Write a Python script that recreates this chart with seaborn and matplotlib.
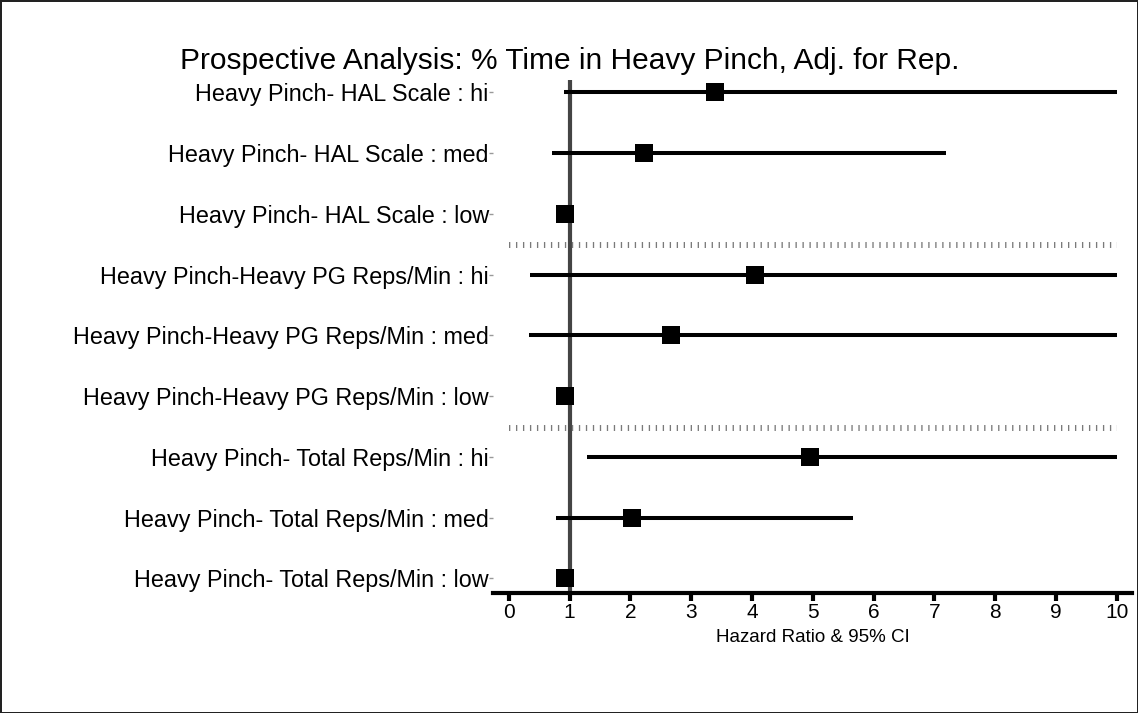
import numpy as np
import pandas as pd
import matplotlib
matplotlib.use("Agg")
import matplotlib.pyplot as plt
import seaborn as sns

labels = [
    "Heavy Pinch- HAL Scale : hi",
    "Heavy Pinch- HAL Scale : med",
    "Heavy Pinch- HAL Scale : low",
    "Heavy Pinch-Heavy PG Reps/Min : hi",
    "Heavy Pinch-Heavy PG Reps/Min : med",
    "Heavy Pinch-Heavy PG Reps/Min : low",
    "Heavy Pinch- Total Reps/Min : hi",
    "Heavy Pinch- Total Reps/Min : med",
    "Heavy Pinch- Total Reps/Min : low",
]
hazard_ratio = [3.39, 2.22, 0.92, 4.05, 2.67, 0.92, 4.95, 2.02, 0.92]
ci_low = [0.90, 0.71, 0.92, 0.35, 0.33, 0.92, 1.28, 0.77, 0.92]
ci_high = [10.0, 7.19, 0.92, 10.0, 10.0, 0.92, 10.0, 5.66, 0.92]
group_breaks = [2.52, 5.53]
x_ticks = list(range(0, 11))

df = pd.DataFrame({"label": labels, "hr": hazard_ratio,
                   "lo": ci_low, "hi": ci_high})

sns.set_theme(style="white")
plt.rcParams["font.family"] = ["Liberation Sans", "DejaVu Sans"]
plt.rcParams["text.color"] = "black"
plt.rcParams["axes.labelcolor"] = "black"
plt.rcParams["xtick.color"] = "black"
plt.rcParams["ytick.color"] = "black"

fig = plt.figure(figsize=(11.38, 7.13), dpi=100)
fig.patch.set_edgecolor("#222222")
fig.patch.set_linewidth(2)
ax = fig.add_axes([493 / 1138, 1 - 593 / 713, (1132 - 493) / 1138, (593 - 80) / 713])

pos = np.arange(len(labels))

# reference line at HR = 1
ax.axvline(1, color="#444444", lw=3.0, zorder=1)

# confidence intervals
ax.hlines(pos, df["lo"], df["hi"], color="black", lw=2.9, zorder=2)

# point estimates
sns.scatterplot(data=df, x="hr", y="label", marker="s", s=150,
                color="black", edgecolor="black", linewidth=0,
                ax=ax, zorder=3, legend=False)

# group separators
for yb in group_breaks:
    ax.hlines(yb, 0, 10, color="#7a7a7a", lw=4.3,
              linestyles=(0, (0.22, 0.95)), capstyle="butt", zorder=1)

ax.set_xlim(-0.26, 10.25)
ax.set_ylim(8.24, -0.2)
ax.set_xticks(x_ticks)
ax.set_xticklabels([str(t) for t in x_ticks])
ax.set_yticks(pos)
ax.set_yticklabels(labels)

for side in ["left", "right", "top"]:
    ax.spines[side].set_visible(False)
ax.spines["bottom"].set_linewidth(3)
ax.spines["bottom"].set_color("black")

ax.tick_params(axis="x", which="major", direction="out", length=6, width=3,
               color="black", labelsize=15, pad=1, bottom=True)
ax.tick_params(axis="y", which="major", direction="out", length=3, width=1,
               color="#999999", labelsize=16.8, pad=0, left=True)

ax.set_xlabel("Hazard Ratio & 95% CI", fontsize=13.5, labelpad=5)
ax.set_ylabel("")
fig.suptitle("Prospective Analysis: % Time in Heavy Pinch, Adj. for Rep.",
             fontsize=21.5, x=570 / 1138, y=1 - 61 / 713, va="center")

fig.savefig("out.png", dpi=100, edgecolor=fig.get_edgecolor())
